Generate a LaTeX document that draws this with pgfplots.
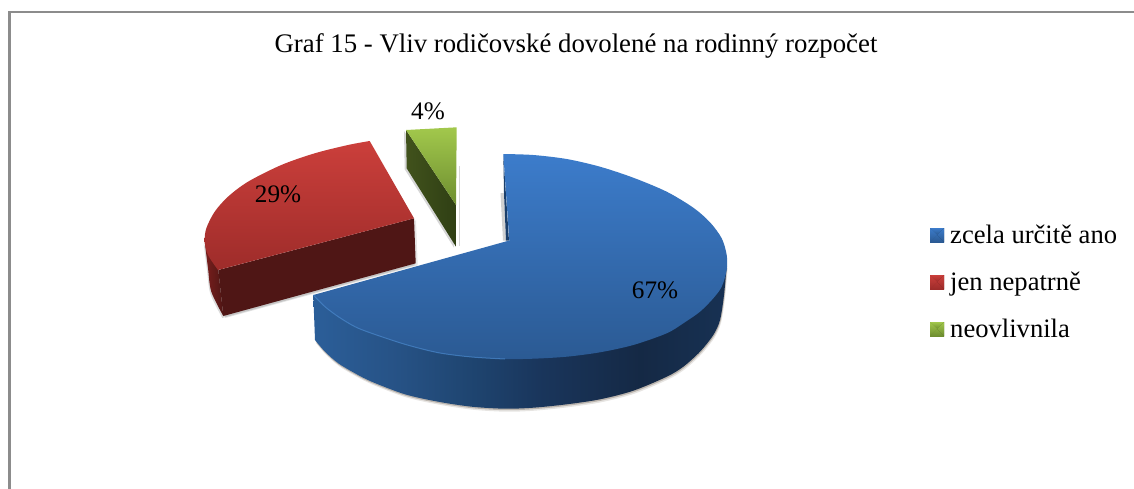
\documentclass[border=0pt]{standalone}
\usepackage{fontspec}
\setmainfont{Liberation Serif}
\usepackage{pgfplots}
\usepackage{pgfplotstable}
\pgfplotsset{compat=1.18}
\definecolor{bluetopA}{HTML}{3C7CCB}
\definecolor{bluetopB}{HTML}{2B5A93}
\definecolor{bluerim}{HTML}{4A88CC}
\definecolor{redtopA}{HTML}{CB3F3B}
\definecolor{redtopB}{HTML}{9E2C2A}
\definecolor{redfront}{HTML}{4F1615}
\definecolor{redleftc}{HTML}{7A1F1D}
\definecolor{greentopA}{HTML}{A2C84C}
\definecolor{greentopB}{HTML}{6E8E30}
\definecolor{greenfrontA}{HTML}{41521C}
\definecolor{greenfrontB}{HTML}{2F3F14}
\definecolor{bluesliver}{HTML}{1B3F6B}
\pgfdeclarehorizontalshading{bluesideS}{100bp}{
  rgb(0bp)=(0.17,0.37,0.60);
  rgb(25bp)=(0.17,0.37,0.60);
  rgb(35.5bp)=(0.15,0.32,0.52);
  rgb(44bp)=(0.12,0.27,0.44);
  rgb(52.4bp)=(0.10,0.21,0.36);
  rgb(64.5bp)=(0.08,0.16,0.27);
  rgb(74bp)=(0.09,0.19,0.32);
  rgb(100bp)=(0.09,0.19,0.32)}
% top face of the blue slice: outer arc only, the apex closes it
\pgfplotstableread{
x y
503.3 154
533.3 155
566.7 159
600 166.7
633.3 177.7
666.7 191.7
693.3 207.7
710 222.3
721.7 238.3
726.7 255
726.7 270
721.7 286.7
713.3 298.3
700 311.7
683.3 323.3
666.7 333.3
633.3 345
600 352.3
566.7 356.7
533.3 358.7
505 359
471.7 357
438.3 352.7
405 344.3
371.7 333.3
355 326.7
338.3 316.7
325 306.7
313.3 295
}\bluetop
\pgfplotstableread{
x y
505 359
471.7 357
438.3 352.7
405 344.3
371.7 333.3
355 326.7
338.3 316.7
325 306.7
313.3 295
}\bluerimline
\pgfplotstableread{
x y
315 340
325 351.7
338.3 363.3
355 373.3
371.7 381.7
405 394.3
438.3 401.7
471.7 406.7
505 408.7
533.3 407.7
566.7 404.3
600 399.3
633.3 390.7
666.7 376.7
683.3 366.7
700 351.7
713.3 335
720 320
724 295
726.7 265
}\blueside
\pgfplotstableread{
x y
369.7 141
348 145
314.7 153.3
281.3 165
248 181.7
228 196.7
214.7 211.7
206.3 228.3
204.7 241.7
208 255
218 270
}\redtop
\pgfplotstableread{
x y
218.3 270
414 218.3
415.7 263.3
223.3 316
}\redfrontt
\pgfplotstableread{
x y
204.7 241.7
208 268.3
211.3 291.7
223.3 316
}\redleft
\pgfplotstableread{
x y
406 130
456.7 127.3
456 205
}\greentop
\pgfplotstableread{
x y
406 130
456 205
456 246.7
406.7 168.3
}\greenfront
\begin{document}
\begin{tikzpicture}
\begin{axis}[
  width=1134pt, height=488pt, scale only axis,
  xmin=0, xmax=1134, ymin=0, ymax=488, y dir=reverse,
  axis lines=none, clip=true,
  title={\fontsize{26.8}{30}\selectfont Graf 15 - Vliv rodičovské dovolené na rodinný rozpočet},
  title style={at={(axis cs:576,52)}, anchor=center, inner sep=0pt},
  legend style={at={(axis cs:930,282)}, anchor=west, draw=none, fill=none,
    font=\fontsize{26.6}{30}\selectfont, legend cell align=left,
    row sep=27pt, inner sep=0pt,
    /tikz/every odd column/.append style={column sep=6pt},
    nodes={inner sep=0pt, anchor=west}},
  legend image code/.code={},
]
% full extent of the picture
\addplot[forget plot, draw=none] coordinates {(0,0) (1134,488)};
% frame
\addplot[forget plot, draw=black!45, line width=2.2pt] coordinates {(9.5,489) (9.5,12) (1135,12)};
% shadows
\addplot[forget plot, smooth, tension=0.5, fill=black!70!brown, draw=none, opacity=0.25, yshift=-1.5pt, xshift=0.5pt] table {\blueside} -- (axis cs:640,300) -- cycle;
\addplot[forget plot, smooth, tension=0.5, fill=black!70!brown, draw=none, opacity=0.12, yshift=-3pt, xshift=1pt] table {\blueside} -- (axis cs:640,300) -- cycle;
\addplot[forget plot, fill=black, draw=none, opacity=0.18] coordinates {(500.5,193) (504,193) (506,240.7) (503,240.7)} -- cycle;
\addplot[forget plot, fill=black, draw=none, opacity=0.14, yshift=-2pt, xshift=-1pt] table {\redfrontt} -- cycle;
\addplot[forget plot, fill=black, draw=none, opacity=0.10, xshift=2pt,yshift=-2pt] table {\redfrontt} -- cycle;
\addplot[forget plot, smooth, tension=0.5, fill=black, draw=none, opacity=0.14, xshift=-1pt, yshift=-2pt] table {\redleft} -- (axis cs:218.3,270) -- cycle;
\addplot[forget plot, fill=black, draw=none, opacity=0.16, xshift=-2pt, yshift=-1pt] table {\greenfront} -- cycle;
\addplot[forget plot, fill=black, draw=none, opacity=0.16, xshift=2.5pt] coordinates {(456,166) (457,166) (457,246) (456,246)} -- cycle;
% blue
\addplot[forget plot, smooth, tension=0.5, draw=none, shading=bluesideS] table {\blueside} -- (axis cs:640,300) -- (axis cs:313.3,295) -- cycle;
\addplot[forget plot, fill=bluesliver, draw=none] coordinates {(503.3,154.3) (504,193) (506,240.7) (509,240.7)} -- cycle;
\addplot[smooth, tension=0.5, draw=none, top color=bluetopA, bottom color=bluetopB,
  legend image code/.code={
    \fill[bluetopB!70!black] (0pt,-7pt) rectangle (14pt,7pt);
    \fill[bluetopA] (0pt,7pt) -- (14pt,7pt) -- (7pt,0pt) -- cycle;
    \fill[bluetopB] (0pt,7pt) -- (0pt,-7pt) -- (7pt,0pt) -- cycle;
    \fill[bluetopB!75!black] (14pt,7pt) -- (14pt,-7pt) -- (7pt,0pt) -- cycle;
  }] table {\bluetop} -- (axis cs:509.3,240.5) -- cycle;
\addlegendentry{zcela určitě ano}
\addplot[forget plot, smooth, tension=0.5, draw=bluerim, line width=1pt, opacity=0.7] table {\bluerimline};
% red
\addplot[forget plot, smooth, tension=0.5, draw=none, left color=redleftc, right color=redfront] table {\redleft} -- (axis cs:218.3,270) -- cycle;
\addplot[forget plot, fill=redfront, draw=none] table {\redfrontt} -- cycle;
\addplot[smooth, tension=0.5, draw=none, top color=redtopA, bottom color=redtopB,
  legend image code/.code={
    \fill[redtopB!70!black] (0pt,-7pt) rectangle (14pt,7pt);
    \fill[redtopA] (0pt,7pt) -- (14pt,7pt) -- (7pt,0pt) -- cycle;
    \fill[redtopB] (0pt,7pt) -- (0pt,-7pt) -- (7pt,0pt) -- cycle;
    \fill[redtopB!75!black] (14pt,7pt) -- (14pt,-7pt) -- (7pt,0pt) -- cycle;
  }] table {\redtop} -- (axis cs:414,218.3) -- cycle;
\addlegendentry{jen nepatrně}
% green
\addplot[forget plot, draw=none, left color=greenfrontA, right color=greenfrontB] table {\greenfront} -- cycle;
\addplot[draw=none, top color=greentopA, bottom color=greentopB,
  legend image code/.code={
    \fill[greentopB!70!black] (0pt,-7pt) rectangle (14pt,7pt);
    \fill[greentopA] (0pt,7pt) -- (14pt,7pt) -- (7pt,0pt) -- cycle;
    \fill[greentopB] (0pt,7pt) -- (0pt,-7pt) -- (7pt,0pt) -- cycle;
    \fill[greentopB!75!black] (14pt,7pt) -- (14pt,-7pt) -- (7pt,0pt) -- cycle;
  }] table {\greentop} -- cycle;
\addlegendentry{neovlivnila}
% value labels
\node[font=\fontsize{25.2}{30}\selectfont] at (axis cs:428,111) {4\%};
\node[font=\fontsize{25.2}{30}\selectfont] at (axis cs:278,194) {29\%};
\node[font=\fontsize{25.2}{30}\selectfont] at (axis cs:655,290) {67\%};
\end{axis}
\end{tikzpicture}
\end{document}
